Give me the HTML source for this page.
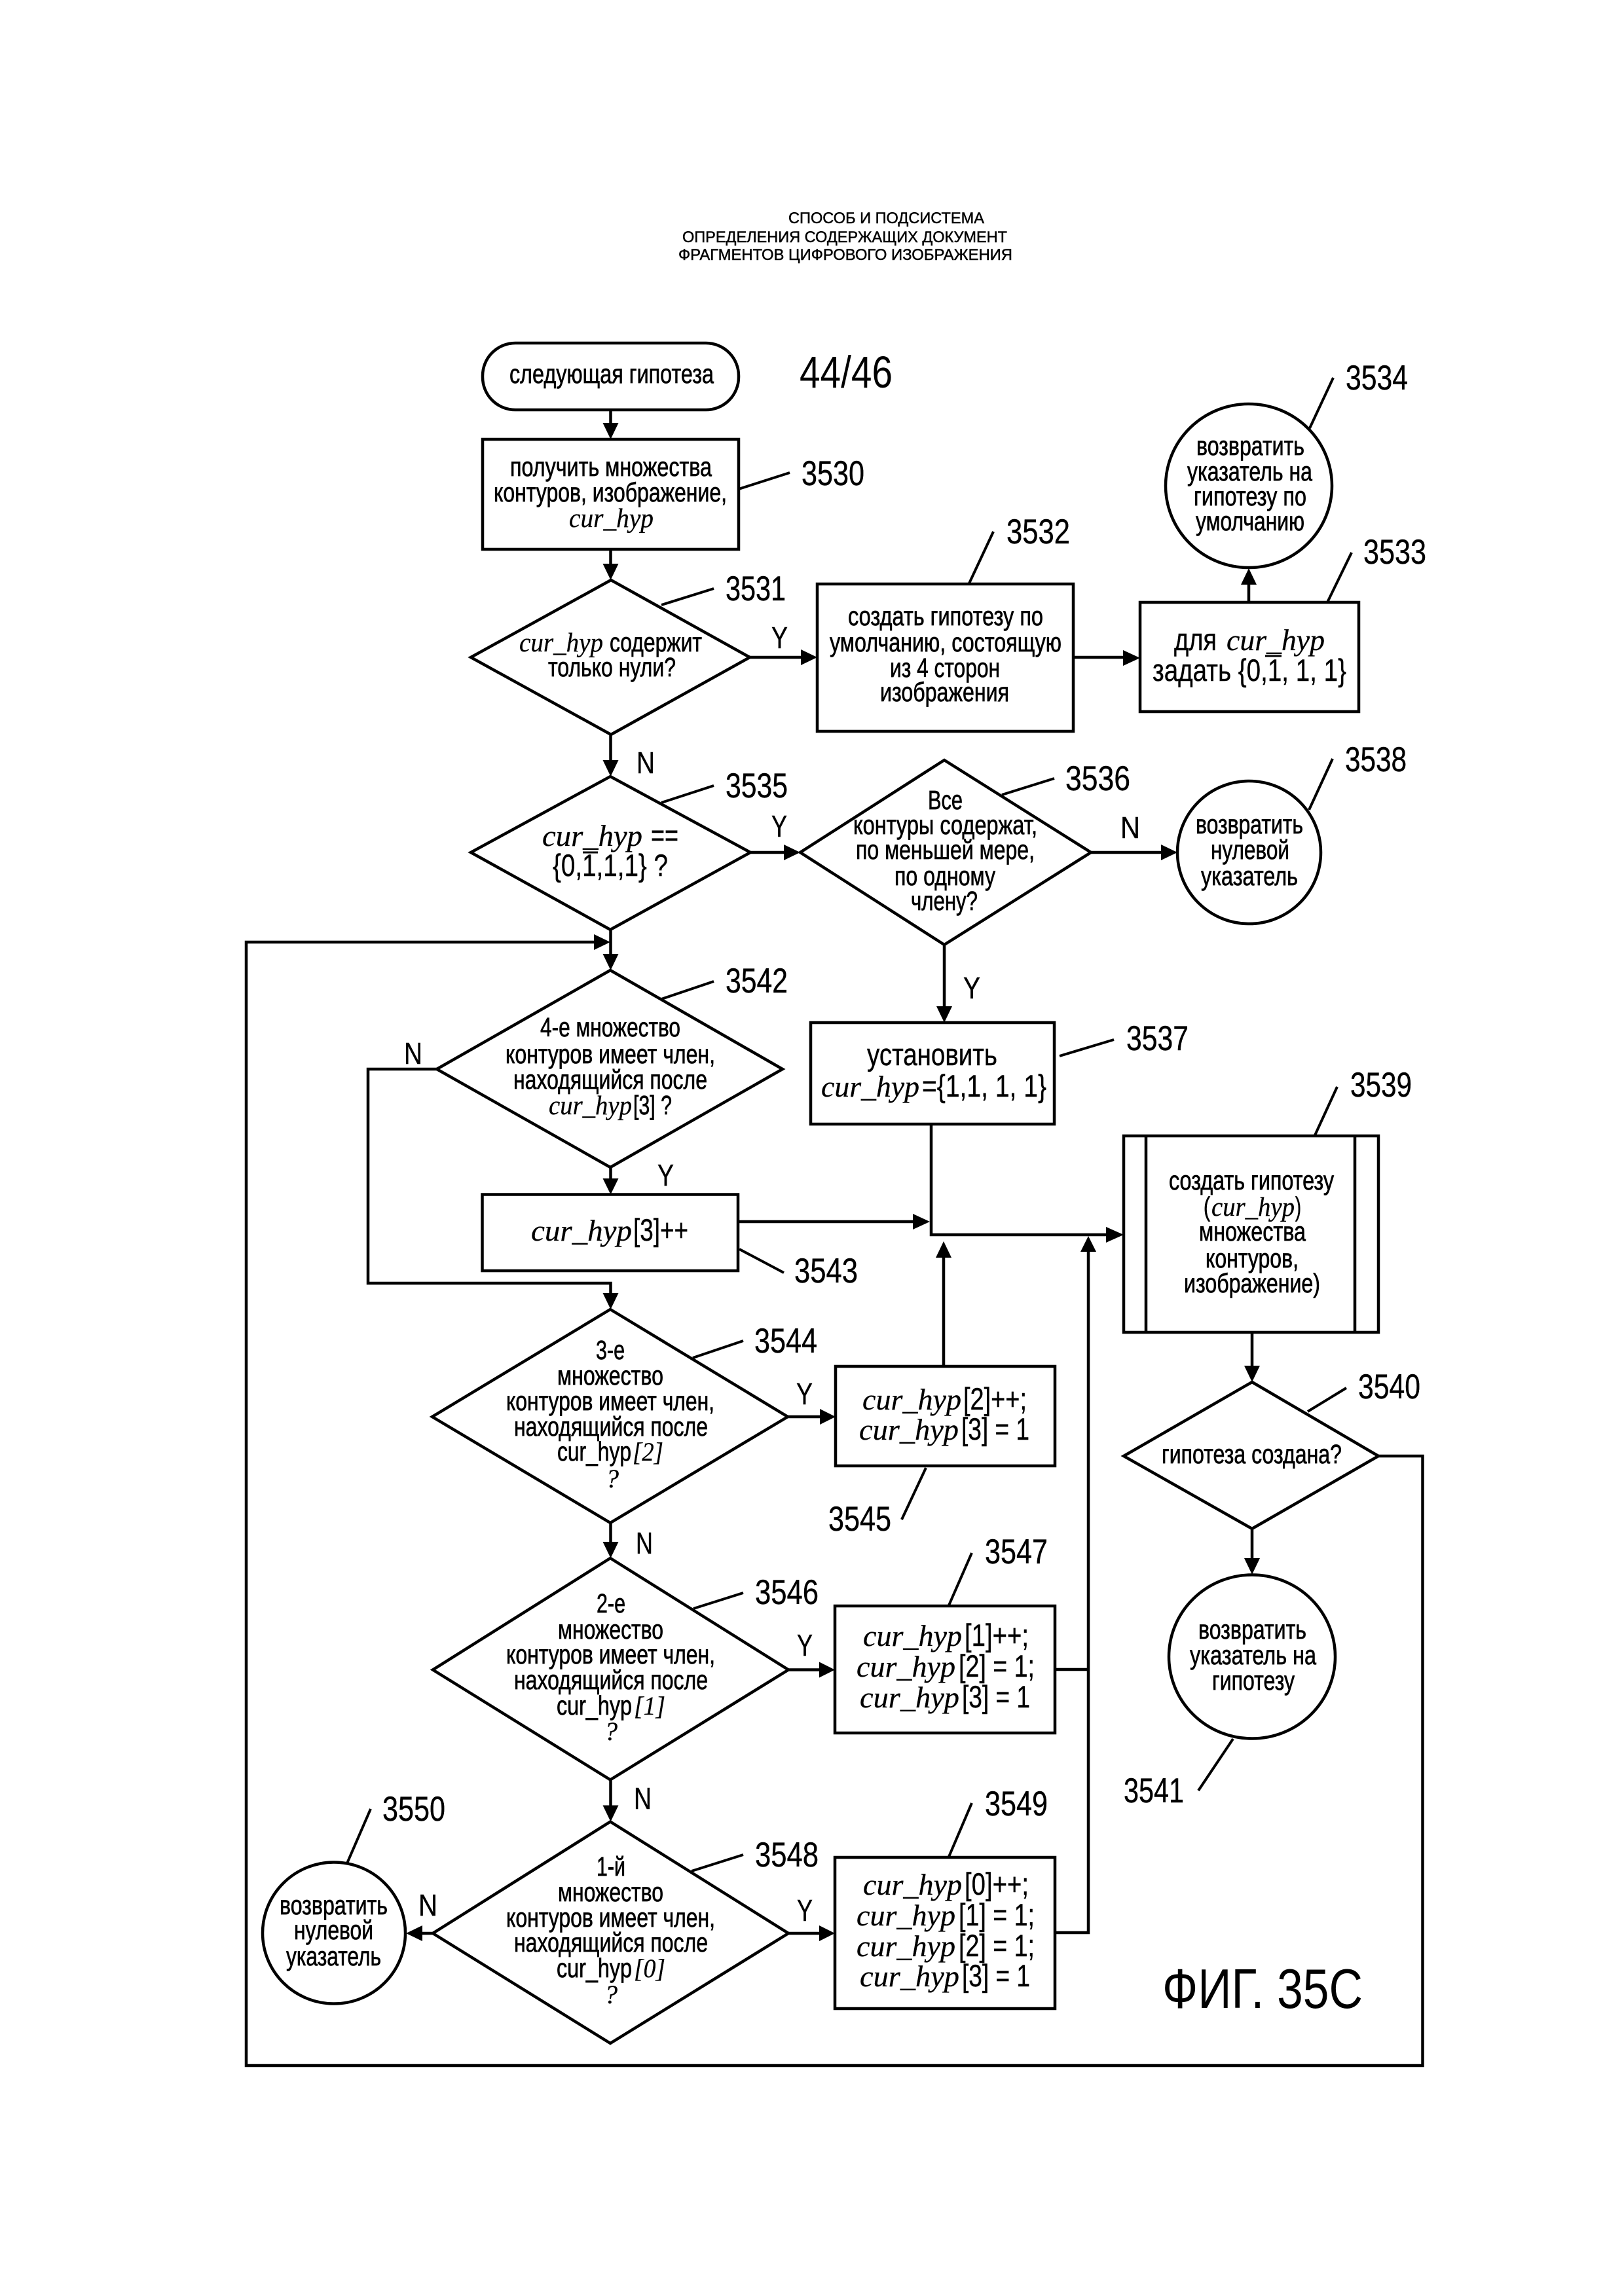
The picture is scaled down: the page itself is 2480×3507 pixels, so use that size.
<!DOCTYPE html>
<html lang="ru">
<head>
<meta charset="utf-8">
<title>ФИГ. 35C</title>
<style>
html,body{margin:0;padding:0;background:#fff}
svg{display:block}
text{fill:#000}
.s{font-family:"Liberation Sans",Arial,sans-serif;font-size:41px;stroke:#000;stroke-width:.7px}
.i{font-family:"Liberation Serif","Times New Roman",serif;font-style:italic;font-size:46px;stroke:#000;stroke-width:.3px}
.n{font-family:"Liberation Sans",Arial,sans-serif;font-size:53px;stroke:#000;stroke-width:.4px}
.l{font-family:"Liberation Sans",Arial,sans-serif;font-size:46px;stroke:#000;stroke-width:.4px}
.h{font-family:"Liberation Sans",Arial,sans-serif;font-size:24px;stroke:#000;stroke-width:.5px}
.b{font-family:"Liberation Sans",Arial,sans-serif;font-size:47px;stroke:#000;stroke-width:.4px}
.g path,.g rect,.g ellipse,.g polyline,.g line{fill:none;stroke:#000;stroke-width:4.5}
.t line{stroke:#000;stroke-width:4;fill:none}
.o line{stroke:#000;stroke-width:3;fill:none}
.a polygon{fill:#000}
</style>
</head>
<body>
<svg xmlns="http://www.w3.org/2000/svg" width="2480" height="3507" viewBox="0 0 2480 3507">
<rect width="2480" height="3507" fill="#fff"/>

<g class="g">
<rect x="737" y="524" width="391" height="102" rx="50" ry="50"/>
<rect x="737" y="671" width="391" height="168"/>
<polygon points="933,886 1145,1004 933,1122 719,1004" fill="none" stroke="#000" stroke-width="4.5"/>
<rect x="1248" y="892" width="391" height="225"/>
<rect x="1741" y="920" width="334" height="167"/>
<ellipse cx="1907" cy="742" rx="127" ry="125"/>
<polygon points="932,1186 1146,1302 932,1420 719,1302" fill="none" stroke="#000" stroke-width="4.5"/>
<polygon points="1442,1161 1666,1302 1442,1443 1222,1302" fill="none" stroke="#000" stroke-width="4.5"/>
<ellipse cx="1907.5" cy="1302" rx="109.5" ry="109"/>
<polygon points="932,1482 1195,1633 932,1783 667,1633" fill="none" stroke="#000" stroke-width="4.5"/>
<rect x="1238" y="1562" width="372" height="155"/>
<rect x="736.5" y="1824.5" width="390.5" height="116.5"/>
<rect x="1716" y="1735" width="389" height="300"/>
<line x1="1750" y1="1735" x2="1750" y2="2035"/>
<line x1="2069" y1="1735" x2="2069" y2="2035"/>
<polygon points="1912,2111 2105,2224 1912,2335 1716,2224" fill="none" stroke="#000" stroke-width="4.5"/>
<ellipse cx="1912" cy="2530.5" rx="127" ry="125"/>
<polygon points="932,2000 1203,2164 932,2326 660,2164" fill="none" stroke="#000" stroke-width="4.5"/>
<rect x="1276" y="2087" width="335" height="152"/>
<polygon points="932,2380 1204,2550.5 932,2718.5 661,2550.5" fill="none" stroke="#000" stroke-width="4.5"/>
<rect x="1275" y="2453" width="336" height="194"/>
<polygon points="932,2782.5 1204,2953 932,3121 661,2953" fill="none" stroke="#000" stroke-width="4.5"/>
<rect x="1275" y="2837" width="336" height="231"/>
<ellipse cx="510" cy="2952.5" rx="109" ry="108"/>

<line x1="932.5" y1="626" x2="932.5" y2="650"/>
<line x1="932.5" y1="839" x2="932.5" y2="865"/>
<line x1="1145" y1="1004" x2="1225" y2="1004"/>
<line x1="1639" y1="1004" x2="1718" y2="1004"/>
<line x1="1907" y1="920" x2="1907" y2="890"/>
<line x1="932.5" y1="1122" x2="932.5" y2="1165"/>
<line x1="1146" y1="1302" x2="1200" y2="1302"/>
<line x1="1666" y1="1302" x2="1775" y2="1302"/>
<line x1="1442" y1="1443" x2="1442" y2="1540"/>
<line x1="932.5" y1="1420" x2="932.5" y2="1460"/>
<line x1="932.5" y1="1783" x2="932.5" y2="1802"/>
<polyline points="667,1633 562,1633 562,1960 932.5,1960 932.5,1980"/>
<line x1="1127" y1="1866" x2="1398" y2="1866"/>
<polyline points="1422,1717 1422,1886 1692,1886"/>
<line x1="1441" y1="2087" x2="1441" y2="1918"/>
<polyline points="1611,2952 1662,2952 1662,1910"/>
<line x1="1611" y1="2550" x2="1662" y2="2550"/>
<line x1="1912" y1="2035" x2="1912" y2="2088"/>
<line x1="1912" y1="2335" x2="1912" y2="2383"/>
<polyline points="2105,2224 2172.5,2224 2172.5,3155 376,3155 376,1439 910,1439"/>
<line x1="1203" y1="2164" x2="1255" y2="2164"/>
<line x1="932.5" y1="2326" x2="932.5" y2="2358"/>
<line x1="1204" y1="2550.5" x2="1254" y2="2550.5"/>
<line x1="932.5" y1="2718.5" x2="932.5" y2="2760"/>
<line x1="1204" y1="2953" x2="1254" y2="2953"/>
<line x1="661" y1="2953" x2="642" y2="2953"/>
</g>

<g class="a">
<polygon points="920.5,646 944.5,646 932.5,671"/>
<polygon points="920.5,861 944.5,861 932.5,886"/>
<polygon points="1223,992 1223,1016 1248,1004"/>
<polygon points="1715,993 1715,1017 1741,1005"/>
<polygon points="1895,893 1919,893 1907,868"/>
<polygon points="920.5,1161 944.5,1161 932.5,1186"/>
<polygon points="1197,1290 1197,1314 1222,1302"/>
<polygon points="1773,1290 1773,1314 1798,1302"/>
<polygon points="1430,1537 1454,1537 1442,1562"/>
<polygon points="907,1427 907,1451 932,1439"/>
<polygon points="920.5,1457 944.5,1457 932.5,1482"/>
<polygon points="920.5,1800 944.5,1800 932.5,1824.5"/>
<polygon points="920.5,1975 944.5,1975 932.5,2000"/>
<polygon points="1394,1854 1394,1878 1420,1866"/>
<polygon points="1689,1874 1689,1898 1716,1886"/>
<polygon points="1429,1921 1453,1921 1441,1896"/>
<polygon points="1650,1912 1674,1912 1662,1888"/>
<polygon points="1900,2086 1924,2086 1912,2111"/>
<polygon points="1900,2380 1924,2380 1912,2405"/>
<polygon points="1252,2152 1252,2176 1276,2164"/>
<polygon points="920.5,2355 944.5,2355 932.5,2380"/>
<polygon points="1251,2538.5 1251,2562.5 1275,2550.5"/>
<polygon points="920.5,2757.5 944.5,2757.5 932.5,2782.5"/>
<polygon points="1251,2941 1251,2965 1275,2953"/>
<polygon points="645,2941 645,2965 620,2953"/>
</g>

<g class="t">
<line x1="1128" y1="747" x2="1206" y2="722"/>
<line x1="1010" y1="924" x2="1090" y2="899"/>
<line x1="1480" y1="891" x2="1517" y2="812"/>
<line x1="2027" y1="920" x2="2064" y2="844"/>
<line x1="2000" y1="654" x2="2036" y2="577"/>
<line x1="1010" y1="1226" x2="1090" y2="1200"/>
<line x1="1530" y1="1214" x2="1610" y2="1189"/>
<line x1="1999" y1="1237" x2="2035" y2="1159"/>
<line x1="1010" y1="1526" x2="1090" y2="1499"/>
<line x1="1618" y1="1613" x2="1701" y2="1588"/>
<line x1="2008" y1="1734" x2="2042" y2="1660"/>
<line x1="1129" y1="1908" x2="1197" y2="1944"/>
<line x1="1058" y1="2074" x2="1135" y2="2048"/>
<line x1="1997" y1="2156" x2="2056" y2="2120"/>
<line x1="1414" y1="2242" x2="1377" y2="2321"/>
<line x1="1059" y1="2457" x2="1135" y2="2433"/>
<line x1="1449" y1="2452" x2="1484" y2="2372"/>
<line x1="1883" y1="2656" x2="1830" y2="2735"/>
<line x1="1056" y1="2858" x2="1135" y2="2833"/>
<line x1="1449" y1="2836" x2="1484" y2="2754"/>
<line x1="530" y1="2846" x2="566" y2="2763"/>
</g>
<g class="o">
<line x1="890" y1="1302" x2="913" y2="1302"/>
<line x1="1932" y1="1002" x2="1957" y2="1002"/>
</g>

<!-- header -->
<text class="h" x="1204" y="341" textLength="299" lengthAdjust="spacingAndGlyphs">СПОСОБ И ПОДСИСТЕМА</text>
<text class="h" x="1042" y="370" textLength="496" lengthAdjust="spacingAndGlyphs">ОПРЕДЕЛЕНИЯ СОДЕРЖАЩИХ ДОКУМЕНТ</text>
<text class="h" x="1036" y="397" textLength="510" lengthAdjust="spacingAndGlyphs">ФРАГМЕНТОВ ЦИФРОВОГО ИЗОБРАЖЕНИЯ</text>

<text x="1221" y="592" font-family="Liberation Sans, Arial, sans-serif" font-size="69" textLength="142" lengthAdjust="spacingAndGlyphs">44/46</text>
<text x="1775" y="3067" font-family="Liberation Sans, Arial, sans-serif" font-size="85" textLength="306" lengthAdjust="spacingAndGlyphs">ФИГ. 35C</text>

<!-- reference numbers -->
<text class="n" x="1224" y="741" textLength="96" lengthAdjust="spacingAndGlyphs">3530</text>
<text class="n" x="1108" y="917" textLength="92" lengthAdjust="spacingAndGlyphs">3531</text>
<text class="n" x="1537" y="830" textLength="97" lengthAdjust="spacingAndGlyphs">3532</text>
<text class="n" x="2082" y="861" textLength="96" lengthAdjust="spacingAndGlyphs">3533</text>
<text class="n" x="2055" y="595" textLength="95" lengthAdjust="spacingAndGlyphs">3534</text>
<text class="n" x="1108" y="1218" textLength="95" lengthAdjust="spacingAndGlyphs">3535</text>
<text class="n" x="1627" y="1207" textLength="99" lengthAdjust="spacingAndGlyphs">3536</text>
<text class="n" x="2054" y="1178" textLength="94" lengthAdjust="spacingAndGlyphs">3538</text>
<text class="n" x="1108" y="1516" textLength="95" lengthAdjust="spacingAndGlyphs">3542</text>
<text class="n" x="1720" y="1604" textLength="95" lengthAdjust="spacingAndGlyphs">3537</text>
<text class="n" x="2062" y="1675" textLength="94" lengthAdjust="spacingAndGlyphs">3539</text>
<text class="n" x="1213" y="1959" textLength="97" lengthAdjust="spacingAndGlyphs">3543</text>
<text class="n" x="1152" y="2066" textLength="96" lengthAdjust="spacingAndGlyphs">3544</text>
<text class="n" x="2074" y="2136" textLength="95" lengthAdjust="spacingAndGlyphs">3540</text>
<text class="n" x="1265" y="2338" textLength="96" lengthAdjust="spacingAndGlyphs">3545</text>
<text class="n" x="1504" y="2388" textLength="96" lengthAdjust="spacingAndGlyphs">3547</text>
<text class="n" x="1153" y="2450" textLength="97" lengthAdjust="spacingAndGlyphs">3546</text>
<text class="n" x="1716" y="2753" textLength="92" lengthAdjust="spacingAndGlyphs">3541</text>
<text class="n" x="584" y="2781" textLength="96" lengthAdjust="spacingAndGlyphs">3550</text>
<text class="n" x="1504" y="2773" textLength="96" lengthAdjust="spacingAndGlyphs">3549</text>
<text class="n" x="1153" y="2851" textLength="97" lengthAdjust="spacingAndGlyphs">3548</text>

<!-- Y / N -->
<text class="l" x="1178" y="990" textLength="25" lengthAdjust="spacingAndGlyphs">Y</text>
<text class="l" x="972" y="1181" textLength="28" lengthAdjust="spacingAndGlyphs">N</text>
<text class="l" x="1178" y="1278" textLength="24" lengthAdjust="spacingAndGlyphs">Y</text>
<text class="l" x="1711" y="1280" textLength="30" lengthAdjust="spacingAndGlyphs">N</text>
<text class="l" x="1471" y="1525" textLength="26" lengthAdjust="spacingAndGlyphs">Y</text>
<text class="l" x="617" y="1625" textLength="28" lengthAdjust="spacingAndGlyphs">N</text>
<text class="l" x="1004" y="1811" textLength="25" lengthAdjust="spacingAndGlyphs">Y</text>
<text class="l" x="1216" y="2145" textLength="25" lengthAdjust="spacingAndGlyphs">Y</text>
<text class="l" x="971" y="2373" textLength="26" lengthAdjust="spacingAndGlyphs">N</text>
<text class="l" x="1217" y="2529" textLength="24" lengthAdjust="spacingAndGlyphs">Y</text>
<text class="l" x="968" y="2763" textLength="27" lengthAdjust="spacingAndGlyphs">N</text>
<text class="l" x="1217" y="2934" textLength="24" lengthAdjust="spacingAndGlyphs">Y</text>
<text class="l" x="639" y="2926" textLength="29" lengthAdjust="spacingAndGlyphs">N</text>

<!-- terminator -->
<text class="s" x="778" y="585" textLength="312" lengthAdjust="spacingAndGlyphs">следующая гипотеза</text>

<!-- 3530 -->
<text class="s" x="779" y="727" textLength="308" lengthAdjust="spacingAndGlyphs">получить множества</text>
<text class="s" x="754" y="766" textLength="356" lengthAdjust="spacingAndGlyphs">контуров, изображение,</text>
<text class="i" x="869" y="805" textLength="129" lengthAdjust="spacingAndGlyphs" style="font-size:41px">cur_hyp</text>

<!-- 3531 -->
<text class="i" x="793" y="995" style="font-size:41px" textLength="128" lengthAdjust="spacingAndGlyphs">cur_hyp</text>
<text class="s" x="931" y="995" textLength="141" lengthAdjust="spacingAndGlyphs">содержит</text>
<text class="s" x="837" y="1033" textLength="195" lengthAdjust="spacingAndGlyphs">только нули?</text>

<!-- 3532 -->
<text class="s" x="1295" y="955" textLength="298" lengthAdjust="spacingAndGlyphs">создать гипотезу по</text>
<text class="s" x="1267" y="995" textLength="354" lengthAdjust="spacingAndGlyphs">умолчанию, состоящую</text>
<text class="s" x="1359" y="1034" textLength="168" lengthAdjust="spacingAndGlyphs">из 4 сторон</text>
<text class="s" x="1344" y="1071" textLength="197" lengthAdjust="spacingAndGlyphs">изображения</text>

<!-- 3533 -->
<text class="b" x="1793" y="993" textLength="65" lengthAdjust="spacingAndGlyphs">для</text>
<text class="i" x="1873" y="993" textLength="150" lengthAdjust="spacingAndGlyphs">cur_hyp</text>
<text class="b" x="1760" y="1040" textLength="296" lengthAdjust="spacingAndGlyphs">задать {0,1, 1, 1}</text>

<!-- 3534 -->
<text class="s" x="1827" y="695" textLength="165" lengthAdjust="spacingAndGlyphs">возвратить</text>
<text class="s" x="1813" y="734" textLength="191" lengthAdjust="spacingAndGlyphs">указатель на</text>
<text class="s" x="1823" y="772" textLength="172" lengthAdjust="spacingAndGlyphs">гипотезу по</text>
<text class="s" x="1826" y="810" textLength="166" lengthAdjust="spacingAndGlyphs">умолчанию</text>

<!-- 3535 -->
<text class="i" x="828" y="1292" textLength="153" lengthAdjust="spacingAndGlyphs">cur_hyp</text>
<text class="b" x="994" y="1292" textLength="42" lengthAdjust="spacingAndGlyphs">==</text>
<text class="b" x="844" y="1338" textLength="176" lengthAdjust="spacingAndGlyphs">{0,1,1,1} ?</text>

<!-- 3536 -->
<text class="s" x="1417" y="1236" textLength="53" lengthAdjust="spacingAndGlyphs">Все</text>
<text class="s" x="1303" y="1274" textLength="281" lengthAdjust="spacingAndGlyphs">контуры содержат,</text>
<text class="s" x="1307" y="1312" textLength="273" lengthAdjust="spacingAndGlyphs">по меньшей мере,</text>
<text class="s" x="1366" y="1352" textLength="154" lengthAdjust="spacingAndGlyphs">по одному</text>
<text class="s" x="1391" y="1390" textLength="102" lengthAdjust="spacingAndGlyphs">члену?</text>

<!-- 3538 -->
<text class="s" x="1826" y="1273" textLength="164" lengthAdjust="spacingAndGlyphs">возвратить</text>
<text class="s" x="1849" y="1312" textLength="120" lengthAdjust="spacingAndGlyphs">нулевой</text>
<text class="s" x="1834" y="1352" textLength="148" lengthAdjust="spacingAndGlyphs">указатель</text>

<!-- 3542 -->
<text class="s" x="825" y="1583" textLength="214" lengthAdjust="spacingAndGlyphs">4-е множество</text>
<text class="s" x="772" y="1624" textLength="320" lengthAdjust="spacingAndGlyphs">контуров имеет член,</text>
<text class="s" x="784" y="1663" textLength="296" lengthAdjust="spacingAndGlyphs">находящийся после</text>
<text class="i" x="838" y="1702" style="font-size:41px" textLength="127" lengthAdjust="spacingAndGlyphs">cur_hyp</text>
<text class="s" x="967" y="1702" textLength="59" lengthAdjust="spacingAndGlyphs">[3] ?</text>

<!-- 3537 -->
<text class="b" x="1324" y="1627" textLength="199" lengthAdjust="spacingAndGlyphs">установить</text>
<text class="i" x="1254" y="1675" textLength="150" lengthAdjust="spacingAndGlyphs">cur_hyp</text>
<text class="b" x="1408" y="1675" textLength="190" lengthAdjust="spacingAndGlyphs">={1,1, 1, 1}</text>

<!-- 3543 -->
<text class="i" x="811" y="1895" textLength="154" lengthAdjust="spacingAndGlyphs">cur_hyp</text>
<text class="b" x="967" y="1895" textLength="84" lengthAdjust="spacingAndGlyphs">[3]++</text>

<!-- 3539 -->
<text class="s" x="1785" y="1817" textLength="252" lengthAdjust="spacingAndGlyphs">создать гипотезу</text>
<text class="s" x="1838" y="1857" textLength="10" lengthAdjust="spacingAndGlyphs">(</text>
<text class="i" x="1850" y="1857" style="font-size:41px" textLength="127" lengthAdjust="spacingAndGlyphs">cur_hyp</text>
<text class="s" x="1978" y="1857" textLength="9" lengthAdjust="spacingAndGlyphs">)</text>
<text class="s" x="1831" y="1895" textLength="163" lengthAdjust="spacingAndGlyphs">множества</text>
<text class="s" x="1841" y="1936" textLength="142" lengthAdjust="spacingAndGlyphs">контуров,</text>
<text class="s" x="1808" y="1974" textLength="208" lengthAdjust="spacingAndGlyphs">изображение)</text>

<!-- 3540 -->
<text class="s" x="1774" y="2235" textLength="275" lengthAdjust="spacingAndGlyphs">гипотеза создана?</text>

<!-- 3544 -->
<text class="s" x="910" y="2076" textLength="44" lengthAdjust="spacingAndGlyphs">3-е</text>
<text class="s" x="851" y="2115" textLength="162" lengthAdjust="spacingAndGlyphs">множество</text>
<text class="s" x="773" y="2154" textLength="318" lengthAdjust="spacingAndGlyphs">контуров имеет член,</text>
<text class="s" x="785" y="2193" textLength="296" lengthAdjust="spacingAndGlyphs">находящийся после</text>
<text class="s" x="851" y="2231" textLength="113" lengthAdjust="spacingAndGlyphs">cur_hyp</text>
<text class="i" x="966" y="2231" style="font-size:40px" textLength="47" lengthAdjust="spacingAndGlyphs">[2]</text>
<text class="i" x="925" y="2272" style="font-size:40px">?</text>

<!-- 3545 -->
<text class="i" x="1317" y="2153" textLength="151" lengthAdjust="spacingAndGlyphs">cur_hyp</text>
<text class="b" x="1471" y="2153" textLength="97" lengthAdjust="spacingAndGlyphs">[2]++;</text>
<text class="i" x="1312" y="2199" textLength="152" lengthAdjust="spacingAndGlyphs">cur_hyp</text>
<text class="b" x="1468" y="2199" textLength="104" lengthAdjust="spacingAndGlyphs">[3] = 1</text>

<!-- 3546 -->
<text class="s" x="911" y="2463" textLength="44" lengthAdjust="spacingAndGlyphs">2-е</text>
<text class="s" x="852" y="2503" textLength="161" lengthAdjust="spacingAndGlyphs">множество</text>
<text class="s" x="773" y="2541" textLength="319" lengthAdjust="spacingAndGlyphs">контуров имеет член,</text>
<text class="s" x="785" y="2580" textLength="296" lengthAdjust="spacingAndGlyphs">находящийся после</text>
<text class="s" x="850" y="2619" textLength="115" lengthAdjust="spacingAndGlyphs">cur_hyp</text>
<text class="i" x="968" y="2619" style="font-size:40px" textLength="48" lengthAdjust="spacingAndGlyphs">[1]</text>
<text class="i" x="923" y="2658" style="font-size:40px">?</text>

<!-- 3547 -->
<text class="i" x="1318" y="2514" textLength="151" lengthAdjust="spacingAndGlyphs">cur_hyp</text>
<text class="b" x="1473" y="2514" textLength="98" lengthAdjust="spacingAndGlyphs">[1]++;</text>
<text class="i" x="1308" y="2561" textLength="151" lengthAdjust="spacingAndGlyphs">cur_hyp</text>
<text class="b" x="1464" y="2561" textLength="116" lengthAdjust="spacingAndGlyphs">[2] = 1;</text>
<text class="i" x="1313" y="2608" textLength="152" lengthAdjust="spacingAndGlyphs">cur_hyp</text>
<text class="b" x="1469" y="2608" textLength="104" lengthAdjust="spacingAndGlyphs">[3] = 1</text>

<!-- 3541 -->
<text class="s" x="1830" y="2503" textLength="165" lengthAdjust="spacingAndGlyphs">возвратить</text>
<text class="s" x="1817" y="2542" textLength="193" lengthAdjust="spacingAndGlyphs">указатель на</text>
<text class="s" x="1851" y="2581" textLength="126" lengthAdjust="spacingAndGlyphs">гипотезу</text>

<!-- 3548 -->
<text class="s" x="911" y="2865" textLength="44" lengthAdjust="spacingAndGlyphs">1-й</text>
<text class="s" x="852" y="2904" textLength="161" lengthAdjust="spacingAndGlyphs">множество</text>
<text class="s" x="773" y="2943" textLength="319" lengthAdjust="spacingAndGlyphs">контуров имеет член,</text>
<text class="s" x="785" y="2981" textLength="296" lengthAdjust="spacingAndGlyphs">находящийся после</text>
<text class="s" x="850" y="3020" textLength="115" lengthAdjust="spacingAndGlyphs">cur_hyp</text>
<text class="i" x="968" y="3020" style="font-size:40px" textLength="48" lengthAdjust="spacingAndGlyphs">[0]</text>
<text class="i" x="923" y="3060" style="font-size:40px">?</text>

<!-- 3549 -->
<text class="i" x="1318" y="2894" textLength="151" lengthAdjust="spacingAndGlyphs">cur_hyp</text>
<text class="b" x="1473" y="2894" textLength="98" lengthAdjust="spacingAndGlyphs">[0]++;</text>
<text class="i" x="1308" y="2941" textLength="151" lengthAdjust="spacingAndGlyphs">cur_hyp</text>
<text class="b" x="1464" y="2941" textLength="116" lengthAdjust="spacingAndGlyphs">[1] = 1;</text>
<text class="i" x="1308" y="2988" textLength="151" lengthAdjust="spacingAndGlyphs">cur_hyp</text>
<text class="b" x="1464" y="2988" textLength="116" lengthAdjust="spacingAndGlyphs">[2] = 1;</text>
<text class="i" x="1313" y="3034" textLength="152" lengthAdjust="spacingAndGlyphs">cur_hyp</text>
<text class="b" x="1469" y="3034" textLength="104" lengthAdjust="spacingAndGlyphs">[3] = 1</text>

<!-- 3550 -->
<text class="s" x="427" y="2924" textLength="165" lengthAdjust="spacingAndGlyphs">возвратить</text>
<text class="s" x="449" y="2962" textLength="121" lengthAdjust="spacingAndGlyphs">нулевой</text>
<text class="s" x="437" y="3002" textLength="145" lengthAdjust="spacingAndGlyphs">указатель</text>
</svg>
</body>
</html>
